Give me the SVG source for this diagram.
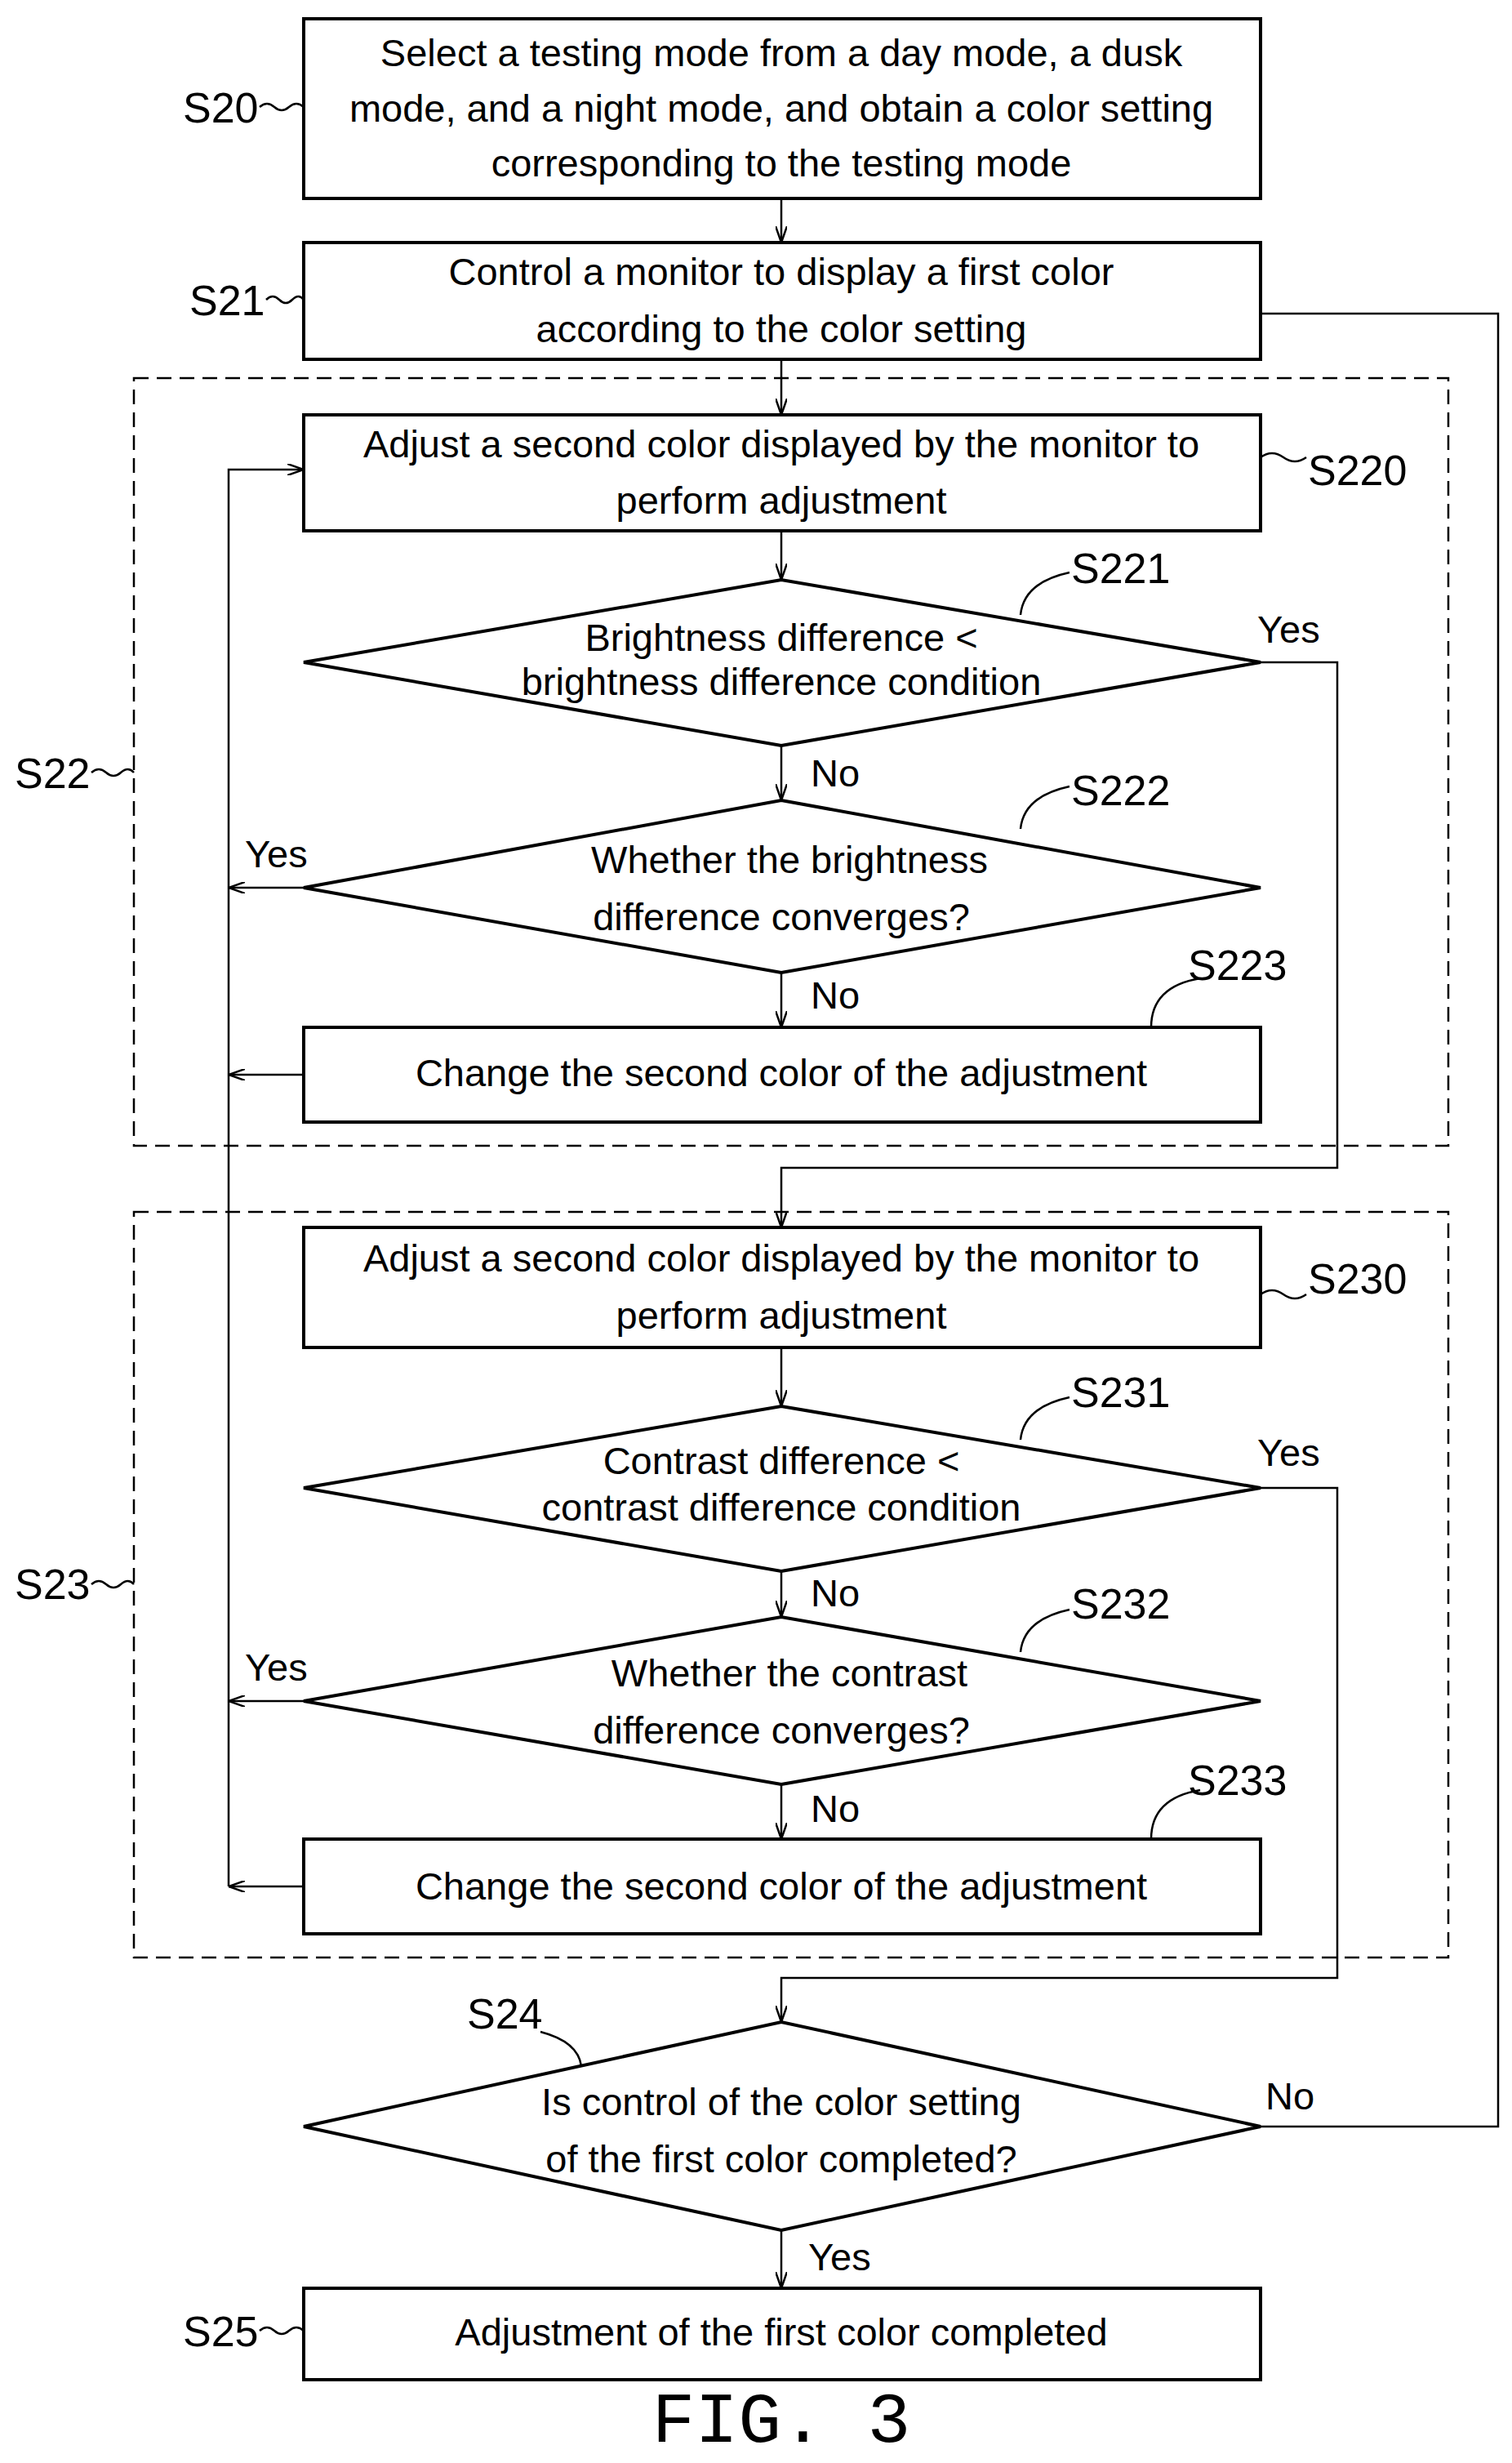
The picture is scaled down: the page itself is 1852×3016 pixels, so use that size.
<svg xmlns="http://www.w3.org/2000/svg" width="1852" height="3016" viewBox="0 0 1852 3016">
<style>
.b{fill:#fff;stroke:#000;stroke-width:4}
.d{fill:none;stroke:#000;stroke-width:2.5;stroke-dasharray:18 10}
.l{fill:none;stroke:#000;stroke-width:2.5}
text{font-family:"Liberation Sans",Arial,sans-serif;font-size:47px;fill:#000}
.c{text-anchor:middle}
.s{font-size:52px}
</style>
<defs><marker id="a" viewBox="0 0 20 14" refX="20" refY="7" markerWidth="20" markerHeight="14" markerUnits="userSpaceOnUse" orient="auto"><path d="M0,0 L20,7 L0,14" fill="none" stroke="#000" stroke-width="2.5"/></marker></defs>
<g id="S22"><rect class="d" x="164" y="463" width="1610" height="940"/><text class="s" x="18" y="965">S22</text></g>
<g id="S23"><rect class="d" x="164" y="1484" width="1610" height="913"/><text class="s" x="18" y="1958">S23</text></g>
<g id="connectors">
<path class="l" d="M957,243 V297" marker-end="url(#a)"/>
<path class="l" d="M957,440 V508" marker-end="url(#a)"/>
<path class="l" d="M957,650 V710" marker-end="url(#a)"/>
<path class="l" d="M957,913 V980" marker-end="url(#a)"/>
<path class="l" d="M957,1191 V1258" marker-end="url(#a)"/>
<path class="l" d="M1544,811 H1638 V1430 H957 V1503" marker-end="url(#a)"/>
<path class="l" d="M957,1650 V1722" marker-end="url(#a)"/>
<path class="l" d="M957,1924 V1980" marker-end="url(#a)"/>
<path class="l" d="M957,2185 V2252" marker-end="url(#a)"/>
<path class="l" d="M1544,1822 H1638 V2422 H957 V2476" marker-end="url(#a)"/>
<path class="l" d="M957,2731 V2802" marker-end="url(#a)"/>
<path class="l" d="M1544,384 H1835 V2604 H1544"/>
<path class="l" d="M280,2310 V575 H372" marker-end="url(#a)"/>
<path class="l" d="M372,1087 H280" marker-end="url(#a)"/>
<path class="l" d="M372,1316 H280" marker-end="url(#a)"/>
<path class="l" d="M372,2083 H280" marker-end="url(#a)"/>
<path class="l" d="M372,2310 H280" marker-end="url(#a)"/>
<path class="l" d="M318,131 q9,-8 18,0 t18,0 t18,0"/>
<path class="l" d="M326,367 q8,-8 16,0 t16,0 t14,0"/>
<path class="l" d="M112,946 q9,-8 18,0 t18,0 t16,0"/>
<path class="l" d="M112,1940 q9,-8 18,0 t18,0 t16,0"/>
<path class="l" d="M318,2854 q9,-8 18,0 t18,0 t18,0"/>
<path class="l" d="M1544,560 q14,-10 28,0 t28,0"/>
<path class="l" d="M1544,1585 q14,-10 28,0 t28,0"/>
<path class="l" d="M1250,753 q4,-40 60,-52"/>
<path class="l" d="M1250,1015 q4,-40 60,-52"/>
<path class="l" d="M1410,1258 q0,-50 60,-60"/>
<path class="l" d="M1250,1763 q4,-40 60,-52"/>
<path class="l" d="M1250,2023 q4,-40 60,-52"/>
<path class="l" d="M1410,2252 q0,-50 60,-60"/>
<path class="l" d="M712,2530 q-4,-30 -50,-42"/>
</g>
<g id="S20"><rect class="b" x="372" y="23" width="1172" height="220"/><text class="c" x="957" y="81">Select a testing mode from a day mode, a dusk</text><text class="c" x="957" y="149">mode, and a night mode, and obtain a color setting</text><text class="c" x="957" y="216">corresponding to the testing mode</text><text class="s" x="224" y="150">S20</text></g>
<g id="S21"><rect class="b" x="372" y="297" width="1172" height="143"/><text class="c" x="957" y="349">Control a monitor to display a first color</text><text class="c" x="957" y="419">according to the color setting</text><text class="s" x="232" y="386">S21</text></g>
<g id="S220"><rect class="b" x="372" y="508" width="1172" height="142"/><text class="c" x="957" y="560">Adjust a second color displayed by the monitor to</text><text class="c" x="957" y="629">perform adjustment</text><text class="s" x="1602" y="594">S220</text></g>
<g id="S221"><polygon class="b" points="372,811 957,710 1544,811 957,913"/><text class="c" x="957" y="797">Brightness difference &lt;</text><text class="c" x="957" y="851">brightness difference condition</text><text class="s" x="1312" y="714">S221</text><text x="1540" y="787">Yes</text><text x="993" y="963">No</text></g>
<g id="S222"><polygon class="b" points="372,1087 957,980 1544,1087 957,1191"/><text class="c" x="967" y="1069">Whether the brightness</text><text class="c" x="957" y="1139">difference converges?</text><text class="s" x="1312" y="986">S222</text><text x="300" y="1062">Yes</text><text x="993" y="1235">No</text></g>
<g id="S223"><rect class="b" x="372" y="1258" width="1172" height="116"/><text class="c" x="957" y="1330">Change the second color of the adjustment</text><text class="s" x="1455" y="1200">S223</text></g>
<g id="S230"><rect class="b" x="372" y="1503" width="1172" height="147"/><text class="c" x="957" y="1557">Adjust a second color displayed by the monitor to</text><text class="c" x="957" y="1627">perform adjustment</text><text class="s" x="1602" y="1584">S230</text></g>
<g id="S231"><polygon class="b" points="372,1822 957,1722 1544,1822 957,1924"/><text class="c" x="957" y="1805">Contrast difference &lt;</text><text class="c" x="957" y="1862">contrast difference condition</text><text class="s" x="1312" y="1723">S231</text><text x="1540" y="1795">Yes</text><text x="993" y="1967">No</text></g>
<g id="S232"><polygon class="b" points="372,2083 957,1980 1544,2083 957,2185"/><text class="c" x="967" y="2065">Whether the contrast</text><text class="c" x="957" y="2135">difference converges?</text><text class="s" x="1312" y="1982">S232</text><text x="300" y="2058">Yes</text><text x="993" y="2231">No</text></g>
<g id="S233"><rect class="b" x="372" y="2252" width="1172" height="116"/><text class="c" x="957" y="2326">Change the second color of the adjustment</text><text class="s" x="1455" y="2198">S233</text></g>
<g id="S24"><polygon class="b" points="372,2604 957,2476 1544,2604 957,2731"/><text class="c" x="957" y="2590">Is control of the color setting</text><text class="c" x="957" y="2660">of the first color completed?</text><text class="s" x="572" y="2484">S24</text><text x="1550" y="2583">No</text><text x="990" y="2780">Yes</text></g>
<g id="S25"><rect class="b" x="372" y="2802" width="1172" height="112"/><text class="c" x="957" y="2872">Adjustment of the first color completed</text><text class="s" x="224" y="2873">S25</text></g>
<text class="c" x="957" y="2990" style="font-family:'Liberation Mono','DejaVu Sans Mono',monospace;font-size:88px">FIG. 3</text>
</svg>
